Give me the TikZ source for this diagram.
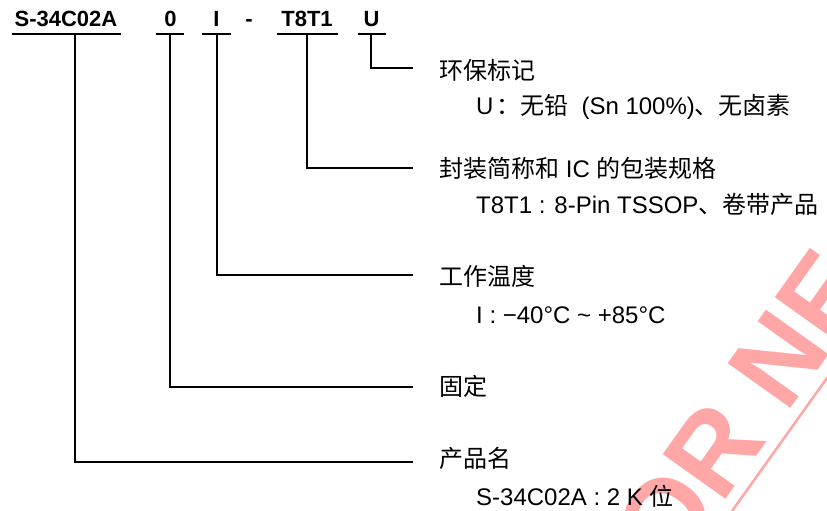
\documentclass[tikz,border=0pt]{standalone}
\usepackage{fontspec}
\setmainfont{Liberation Sans}
\newfontfamily\cjk{Noto Sans CJK SC}
\newcommand\zh[1]{{\cjk #1}}
\definecolor{wmpink}{RGB}{255,166,166}
\tikzset{
  code/.style={font=\fontsize{22}{22}\selectfont\bfseries, inner sep=0, anchor=base},
  head/.style={font=\fontsize{24}{24}\selectfont, inner sep=0, anchor=base west},
  sub/.style={font=\fontsize{24}{24}\selectfont, inner sep=0, anchor=base west},
  ln/.style={line width=1.6pt, black},
  wmtext/.style={rotate=54.5, anchor=base west, inner sep=0, text=wmpink,
    font=\fontsize{112}{112}\selectfont\bfseries},
  wmline/.style={wmpink, line width=2.5pt}
}
\begin{document}
\begin{tikzpicture}[x=1pt,y=-1pt]
\useasboundingbox (0,0) rectangle (827,511);
% watermark
\begin{scope}
  \clip (0,0) rectangle (827,511);
  \node[wmtext] (wm) at (671,577) {OR NE};
  \coordinate (wa) at (720.4,527.3);
  \coordinate (wb) at (836.6,364.5);
  \draw[wmline] (wa) -- (wb);
\end{scope}
% part number fields
\node[code] (pn) at (66,27) {S-34C02A};
\node[code] (fx) at (170.5,27) {0};
\node[code] (tp) at (216.5,27) {I};
\node[code] (ds) at (249,27) {-};
\node[code] (pk) at (307,27) {T8T1};
\node[code] (en) at (371.5,27) {U};
% underlines
\coordinate (pnL) at (12,34);  \coordinate (pnR) at (121,34);
\coordinate (fxL) at (156,34); \coordinate (fxR) at (184,34);
\coordinate (tpL) at (202,34); \coordinate (tpR) at (231,34);
\coordinate (pkL) at (277,34); \coordinate (pkR) at (338,34);
\coordinate (enL) at (358,34); \coordinate (enR) at (386,34);
\draw[ln] (pnL) -- (pnR);
\draw[ln] (fxL) -- (fxR);
\draw[ln] (tpL) -- (tpR);
\draw[ln] (pkL) -- (pkR);
\draw[ln] (enL) -- (enR);
% connector start and end points
\coordinate (pnS) at (75,34);   \coordinate (pnE) at (413,462);
\coordinate (fxS) at (170,34);  \coordinate (fxE) at (413,387);
\coordinate (tpS) at (217,34);  \coordinate (tpE) at (413,275);
\coordinate (pkS) at (307,34);  \coordinate (pkE) at (413,168);
\coordinate (enS) at (371,34);  \coordinate (enE) at (413,68);
\draw[ln] (pnS) |- (pnE);
\draw[ln] (fxS) |- (fxE);
\draw[ln] (tpS) |- (tpE);
\draw[ln] (pkS) |- (pkE);
\draw[ln] (enS) |- (enE);
% descriptions
\node[head] (h1) at (439,80) {\zh{环保标记}};
\node[sub]  (s1) at (476,114) {U\hspace{3pt}\zh{：无铅}\hspace{13pt}(Sn 100\%)\zh{、无卤素}};
\node[head] (h2) at (439,177) {\zh{封装简称和} IC \zh{的包装规格}};
\node[sub]  (s2) at (476,213) {T8T1 : 8-Pin TSSOP\zh{、卷带产品}};
\node[head] (h3) at (439,285) {\zh{工作温度}};
\node[sub]  (s3) at (476,323) {I : −40°C \textasciitilde{} +85°C};
\node[head] (h4) at (439,395) {\zh{固定}};
\node[head] (h5) at (439,467) {\zh{产品名}};
\node[sub]  (s5) at (476,505) {S-34C02A : 2 K \zh{位}};
\end{tikzpicture}
\end{document}
